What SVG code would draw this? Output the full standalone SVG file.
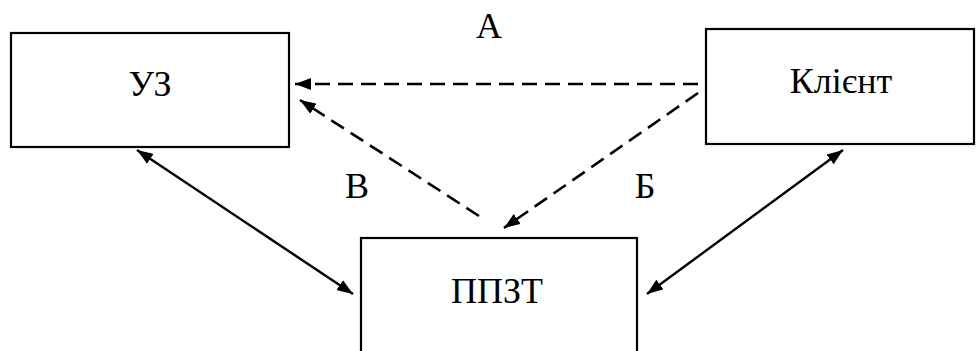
<svg xmlns="http://www.w3.org/2000/svg" width="976" height="351" viewBox="0 0 976 351">
<style>
.box{fill:#fff;stroke:#000;stroke-width:2.2}
text{font-family:'Liberation Serif','Times New Roman',serif;font-size:36px;fill:#000;text-anchor:middle}
.dash{fill:none;stroke:#000;stroke-width:2.6;stroke-dasharray:15 8}
.solid{fill:none;stroke:#000;stroke-width:2.4}
</style>
<defs>
<marker id="ah" viewBox="0 0 16 12" refX="16" refY="6" markerWidth="16" markerHeight="12" markerUnits="userSpaceOnUse" orient="auto-start-reverse">
<path d="M0,0 L16,6 L0,12 Z" fill="#000"/>
</marker>
</defs>
<g id="node-uz"><rect class="box" x="11" y="33" width="278" height="114"/><text x="150" y="96">УЗ</text></g>
<g id="node-client"><rect class="box" x="706" y="29" width="268" height="115"/><text x="841" y="93">Клієнт</text></g>
<g id="node-ppzt"><rect class="box" x="361" y="238" width="276" height="125"/><text x="497" y="303">ППЗТ</text></g>
<g id="connectors">
<line class="dash" x1="698" y1="84" x2="295" y2="84" marker-end="url(#ah)"/>
<line class="dash" x1="479" y1="216" x2="300" y2="100" marker-end="url(#ah)"/>
<line class="dash" x1="698" y1="93" x2="504" y2="228" marker-end="url(#ah)"/>
<line class="solid" x1="137" y1="150" x2="353" y2="294" marker-start="url(#ah)" marker-end="url(#ah)"/>
<line class="solid" x1="843" y1="150" x2="647" y2="294" marker-start="url(#ah)" marker-end="url(#ah)"/>
<text x="489" y="38">А</text>
<text x="357" y="198">В</text>
<text x="645" y="198">Б</text>
</g>
</svg>
